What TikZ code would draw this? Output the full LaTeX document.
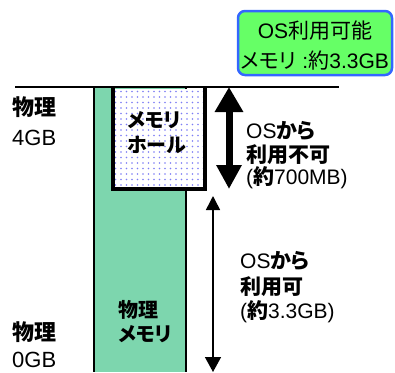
\documentclass[tikz,border=0pt]{standalone}
\usepackage{fontspec}
\setmainfont{Liberation Sans}
\newfontfamily\jp[RawFeature=+palt]{Noto Sans CJK JP}
\usetikzlibrary{arrows.meta,patterns.meta}
\definecolor{mint}{RGB}{125,214,174}
\definecolor{boxgreen}{RGB}{102,255,102}
\definecolor{boxblue}{RGB}{51,102,255}
\definecolor{dotblue}{RGB}{125,125,245}
\newcommand\JB[1]{{\jp\bfseries #1}}
\newcommand\JR[1]{{\jp #1}}
\begin{document}
\begin{tikzpicture}[x=1pt,y=-1pt,
  lbl/.style={anchor=base west,inner sep=0pt,font=\fontsize{21}{24}\selectfont},
  big/.style={anchor=base west,inner sep=0pt,font=\fontsize{22}{24}\selectfont},
  lblc/.style={anchor=base,inner sep=0pt,font=\fontsize{21}{24}\selectfont},
  sm/.style={anchor=base west,inner sep=0pt,font=\fontsize{20}{24}\selectfont}]
\useasboundingbox (0,0) rectangle (395,372);
% physical memory column
\fill[mint] (94,87) rectangle (186,372);
\draw[line width=1.3pt] (94,87) -- (94,372);
\draw[line width=1.3pt] (186,87) -- (186,372);
% memory hole
\fill[white] (113,89) rectangle (205,189);
\fill[pattern={Dots[distance=5.5pt,radius=0.85pt]},pattern color=dotblue] (113,89) rectangle (205,189);
\draw[line width=3.5pt] (113,88) -- (113,189) -- (205,189) -- (205,88);
% top line
\coordinate (hl) at (15,87);
\coordinate (hr) at (339,87);
\draw[line width=1.6pt] (hl) -- (hr);
% OS box
\node[draw=boxblue,fill=boxgreen,line width=2.5pt,rounded corners=7pt,
  minimum width=154pt,minimum height=64pt,inner sep=0pt] (osbox) at (315,43) {};
\node[lblc] (os1) at (315,38) {OS\JR{利用可能}};
\node[lblc] (os2) at (315,68) {\JR{メモリ} :\JR{約}3.3GB};
% arrows
\coordinate (ta) at (229,87);
\coordinate (tb) at (229,189);
\draw[line width=7pt,{Triangle[length=25pt,width=27pt]}-{Triangle[length=24pt,width=24pt]}] (ta) -- (tb);
\coordinate (na) at (213,196);
\coordinate (nb) at (213,372);
\draw[line width=1.5pt,{Triangle[length=14pt,width=14pt]}-{Triangle[length=15pt,width=16pt]}] (na) -- (nb);
% left labels
\node[big] (p1) at (12,115) {\JB{物理}};
\node[big] (g4) at (12,145) {4GB};
\node[big] (p0) at (12,340) {\JB{物理}};
\node[big] (g0) at (12,367) {0GB};
% hole text
\node[sm] (mh1) at (127,127) {\JB{メモリ}};
\node[sm] (mh2) at (127,152) {\JB{ホール}};
% column text
\node[sm] (pm1) at (118,317) {\JB{物理}};
\node[sm] (pm2) at (118,341) {\JB{メモリ}};
% right texts
\node[lbl] (u1) at (246,138) {OS\JB{から}};
\node[lbl] (u2) at (246,162) {\JB{利用不可}};
\node[lbl] (u3) at (246,184) {(\JB{約}700MB)};
\node[lbl] (a1) at (240,268) {OS\JB{から}};
\node[lbl] (a2) at (240,294) {\JB{利用可}};
\node[lbl] (a3) at (240,318) {(\JB{約}3.3GB)};
\end{tikzpicture}
\end{document}
